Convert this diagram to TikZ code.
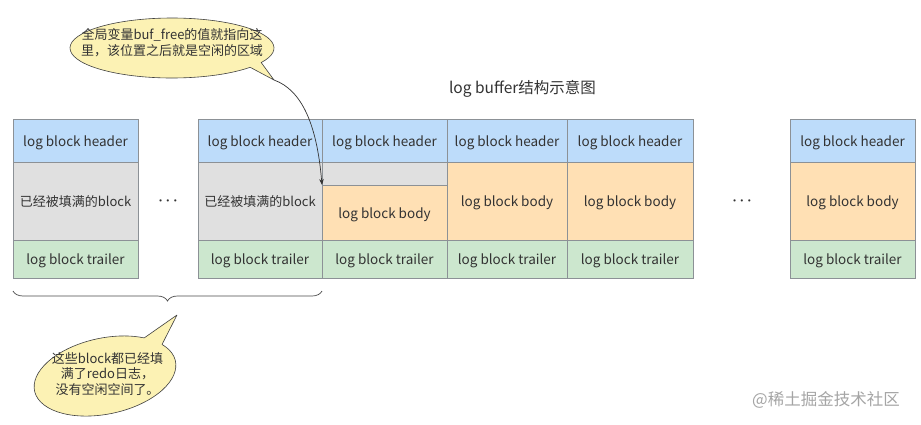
\documentclass[tikz,border=0pt]{standalone}
\usepackage{fontspec}
\setmainfont{Noto Sans CJK SC}
\usetikzlibrary{decorations.pathreplacing,arrows.meta}
\definecolor{hdr}{RGB}{189,220,250}
\definecolor{bdy}{RGB}{255,224,180}
\definecolor{trl}{RGB}{204,231,206}
\definecolor{gry}{RGB}{224,224,224}
\definecolor{bordc}{RGB}{140,145,150}
\definecolor{txt}{RGB}{51,51,51}
\definecolor{bub}{RGB}{252,242,180}
\definecolor{wmc}{RGB}{165,165,165}
\tikzset{
  cell/.style={draw=bordc, line width=0.7pt, rectangle, inner sep=0pt, outer sep=0pt, anchor=north west, text=txt, text height=14pt, text depth=3pt, font=\fontsize{13.5pt}{16pt}\selectfont},
  hdrcell/.style={cell, fill=hdr, minimum height=43pt},
  midgray/.style={cell, fill=gry, minimum height=78pt, font=\fontsize{13pt}{16pt}\selectfont},
  midbody/.style={cell, fill=bdy, minimum height=78pt},
  trlcell/.style={cell, fill=trl, minimum height=38pt},
  lbl/.style={text=txt, font=\fontsize{15.5pt}{18pt}\selectfont, inner sep=0pt},
  dotsl/.style={text=txt, font=\fontsize{14pt}{16pt}\selectfont\boldmath, inner sep=0pt},
  bubble/.style={fill=bub, draw=black!75, line width=0.6pt, line join=round},
  bubtext/.style={text=txt, font=\fontsize{13pt}{16pt}\selectfont, align=center, inner sep=0pt},
  arrowc/.style={draw=black!80, line width=0.7pt, -{Stealth[length=6pt,width=4.5pt]}},
  bracec/.style={draw=black!70, line width=0.7pt, decorate, decoration={brace, amplitude=10pt, mirror}},
  wm/.style={text=wmc, font=\fontsize{16.5pt}{18pt}\selectfont, inner sep=0pt}
}
\begin{document}
\begin{tikzpicture}[x=1pt,y=-1pt]
\fill[white] (0,0) rectangle (921,424);
\useasboundingbox (0,0) rectangle (921,424);

% title
\node[lbl] (title) at (522.5,89) {log buffer结构示意图};

% block 1
\node[hdrcell, minimum width=125pt] (h1) at (13,119) {log block header};
\node[midgray, minimum width=125pt] (m1) at (h1.south west) {已经被填满的block};
\node[trlcell, minimum width=125pt] (t1) at (m1.south west) {log block trailer};

\node[dotsl] (d1) at (168,201) {$\cdots$};

% block 2
\node[hdrcell, minimum width=124pt] (h2) at (198,119) {log block header};
\node[midgray, minimum width=124pt] (m2) at (h2.south west) {已经被填满的block};
\node[trlcell, minimum width=124pt] (t2) at (m2.south west) {log block trailer};

% block 3
\node[hdrcell, minimum width=125pt] (h3) at (322,119) {log block header};
\node[cell, fill=gry, minimum width=125pt, minimum height=23pt, text height=0pt, text depth=0pt] (g3) at (h3.south west) {};
\node[cell, fill=bdy, minimum width=125pt, minimum height=55pt] (b3) at (g3.south west) {log block body};
\node[trlcell, minimum width=125pt] (t3) at (b3.south west) {log block trailer};

% block 4
\node[hdrcell, minimum width=120pt] (h4) at (447,119) {log block header};
\node[midbody, minimum width=120pt] (m4) at (h4.south west) {log block body};
\node[trlcell, minimum width=120pt] (t4) at (m4.south west) {log block trailer};

% block 5
\node[hdrcell, minimum width=126pt] (h5) at (567,119) {log block header};
\node[midbody, minimum width=126pt] (m5) at (h5.south west) {log block body};
\node[trlcell, minimum width=126pt] (t5) at (m5.south west) {log block trailer};

\node[dotsl] (d2) at (742,201) {$\cdots$};

% block 6
\node[hdrcell, minimum width=125pt] (h6) at (790,119) {log block header};
\node[midbody, minimum width=125pt] (m6) at (h6.south west) {log block body};
\node[trlcell, minimum width=125pt] (t6) at (m6.south west) {log block trailer};

% top callout
\coordinate (tipA) at (274,80);
\path[bubble] (172,48) ++(40:102 and 30) arc[start angle=40, end angle=389, x radius=102, y radius=30] -- (tipA) -- cycle;
\node[bubtext] (c1) at (172,42.5) {全局变量buf\_free的值就指向这\\里，该位置之后就是空闲的区域};
\draw[arrowc] (tipA) .. controls (302,90) and (317,125) .. (b3.north west);

% brace
\coordinate (brL) at (13,291);
\coordinate (brR) at (322,291);
\draw[bracec] (brL) -- (brR);

% bottom callout
\coordinate (tipB) at (177,315);
\begin{scope}[shift={(105,376)}, rotate=12]
\path[bubble] (0,0) ++(-30:72 and 38) arc[start angle=-30, end angle=310, x radius=72, y radius=38] -- (tipB) -- cycle;
\end{scope}
\node[bubtext, font=\fontsize{13pt}{15.5pt}\selectfont] (c2) at (107.5,374) {这些block都已经填\\满了redo日志，\\没有空闲空间了。};

% watermark
\node[wm] (wmk) at (826,400) {@稀土掘金技术社区};
\end{tikzpicture}
\end{document}
